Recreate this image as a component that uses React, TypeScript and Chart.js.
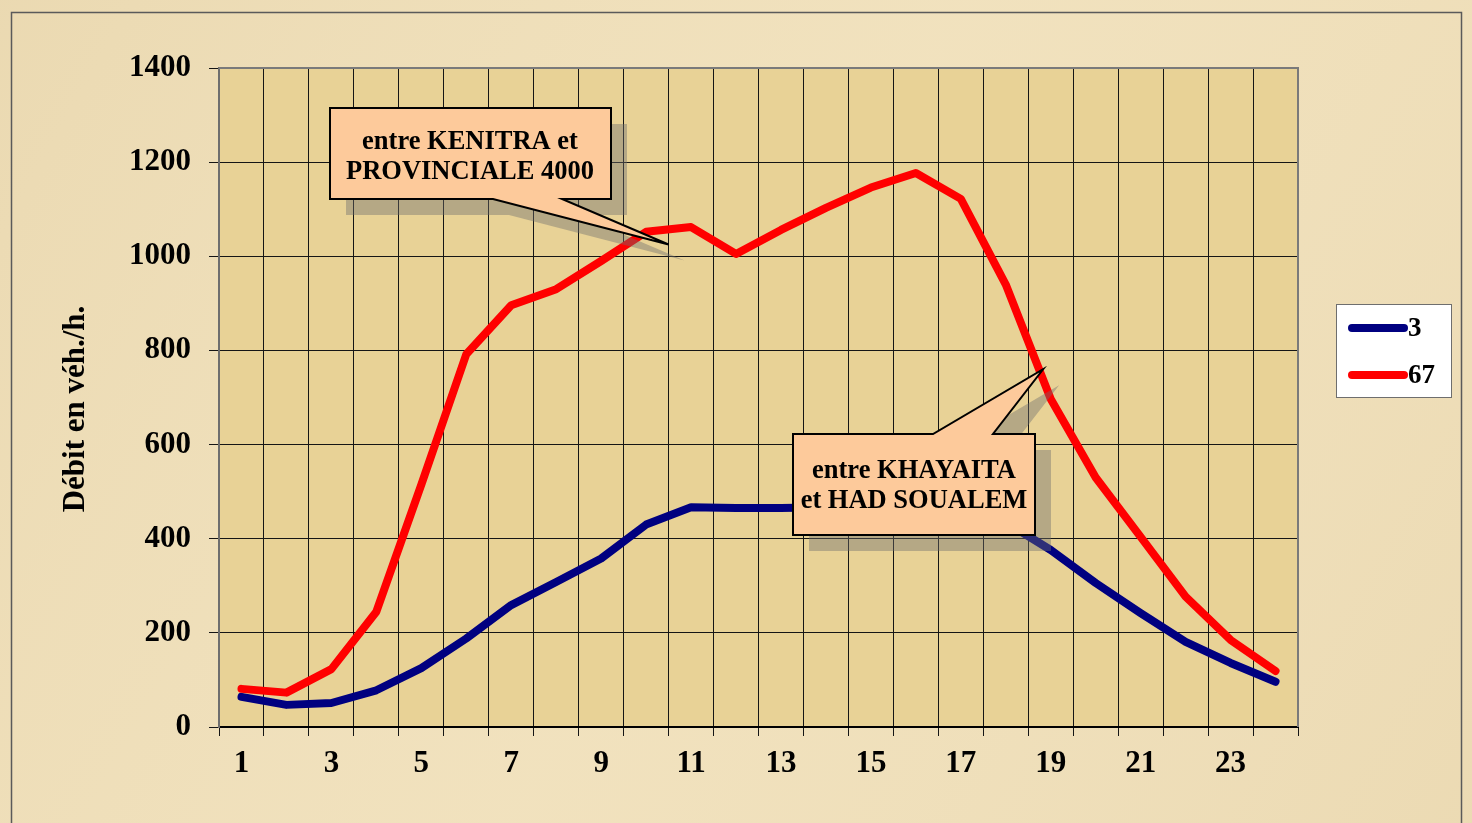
import React, { useEffect, useRef } from 'react';
import { Chart, registerables } from 'chart.js';

Chart.register(...registerables);

// ---- data ----
const hours = ['1', '2', '3', '4', '5', '6', '7', '8', '9', '10', '11', '12', '13', '14', '15', '16', '17', '18', '19', '20', '21', '22', '23', '24'];
const seriesNames = ['3', '67'];
const series3 = [64, 47, 51, 78, 125, 188, 259, 308, 358, 430, 467, 465, 465, 467, 467, 465, 455, 435, 376, 306, 242, 181, 136, 96];
const series67 = [81, 73, 123, 245, 515, 792, 896, 930, 990, 1052, 1062, 1005, 1056, 1103, 1146, 1177, 1122, 940, 697, 530, 404, 277, 185, 119];
const yMin = 0;
const yMax = 1400;
const yStep = 200;
const yTitle = 'Débit en véh./h.';
const callout1Lines = ['entre KENITRA et', 'PROVINCIALE 4000'];
const callout2Lines = ['entre KHAYAITA', 'et HAD SOUALEM'];
// callout pointer tips in data space: [category index, value]
const callout1Tip = [9.5, 1025];
const callout2Tip = [17.83, 760];

const FONT = '"Liberation Serif", "Times New Roman", serif';
const COLORS = ['#000080', '#ff0000'];

function xPix(chart: any, idx: number) {
  const ca = chart.chartArea;
  return ca.left + ((idx + 0.5) / hours.length) * (ca.right - ca.left);
}

function drawCallout(
  ctx: CanvasRenderingContext2D,
  pts: number[][],
  lines: string[],
  cx: number,
  baselines: number[]
) {
  const off = 16;
  ctx.save();
  // shadow
  ctx.beginPath();
  pts.forEach((p, i) => (i === 0 ? ctx.moveTo(p[0] + off, p[1] + off) : ctx.lineTo(p[0] + off, p[1] + off)));
  ctx.closePath();
  ctx.fillStyle = 'rgba(110,110,110,0.42)';
  ctx.fill();
  // body
  ctx.beginPath();
  pts.forEach((p, i) => (i === 0 ? ctx.moveTo(p[0], p[1]) : ctx.lineTo(p[0], p[1])));
  ctx.closePath();
  ctx.fillStyle = '#fdca9b';
  ctx.fill();
  ctx.lineWidth = 2;
  ctx.lineJoin = 'miter';
  ctx.strokeStyle = '#000';
  ctx.stroke();
  // text
  ctx.fillStyle = '#000';
  ctx.font = 'bold 26.5px ' + FONT;
  ctx.textAlign = 'center';
  ctx.textBaseline = 'alphabetic';
  lines.forEach((t, i) => ctx.fillText(t, cx, baselines[i]));
  ctx.restore();
}

const decorPlugin = {
  id: 'decor',
  beforeDraw(chart: any) {
    const { ctx, chartArea: ca, width, height } = chart;
    ctx.save();
    ctx.fillStyle = '#f0e0bb';
    ctx.fillRect(0, 0, width, height);
    const g = ctx.createLinearGradient(0, 0, width, height);
    g.addColorStop(0, 'rgba(225,205,160,0.35)');
    g.addColorStop(0.5, 'rgba(245,232,200,0.2)');
    g.addColorStop(1, 'rgba(228,208,165,0.35)');
    ctx.fillStyle = g;
    ctx.fillRect(0, 0, width, height);
    ctx.fillStyle = '#e8d296';
    ctx.fillRect(ca.left, ca.top, ca.right - ca.left, ca.bottom - ca.top);
    ctx.strokeStyle = '#5a5a5a';
    ctx.lineWidth = 1.5;
    ctx.strokeRect(11.5, 12.5, 1450, 840);
    ctx.restore();
  },
  beforeDatasetsDraw(chart: any) {
    const { ctx, chartArea: ca } = chart;
    ctx.save();
    ctx.strokeStyle = '#7a7a7a';
    ctx.lineWidth = 2;
    ctx.beginPath();
    ctx.moveTo(ca.left, ca.top);
    ctx.lineTo(ca.right, ca.top);
    ctx.lineTo(ca.right, ca.bottom);
    ctx.stroke();
    ctx.restore();
  },
  afterDatasetsDraw(chart: any) {
    const { ctx } = chart;
    const y = chart.scales.y;
    // callout 1
    const t1 = [xPix(chart, callout1Tip[0]), y.getPixelForValue(callout1Tip[1])];
    drawCallout(
      ctx,
      [[330, 108], [611, 108], [611, 199], [562, 199], t1, [493, 199], [330, 199]],
      callout1Lines,
      470,
      [149, 179]
    );
    // callout 2
    const t2 = [xPix(chart, callout2Tip[0]), y.getPixelForValue(callout2Tip[1])];
    drawCallout(
      ctx,
      [[793, 434], [933, 434], t2, [993, 434], [1035, 434], [1035, 535], [793, 535]],
      callout2Lines,
      914,
      [478, 508]
    );

    // y-axis title
    ctx.save();
    ctx.translate(84, 409);
    ctx.rotate(-Math.PI / 2);
    ctx.font = 'bold 31px ' + FONT;
    ctx.fillStyle = '#000';
    ctx.textAlign = 'center';
    ctx.textBaseline = 'alphabetic';
    ctx.fillText(yTitle, 0, 0);
    ctx.restore();

    // legend
    ctx.save();
    ctx.fillStyle = '#ffffff';
    ctx.fillRect(1336, 304, 115, 93);
    ctx.strokeStyle = '#6e6e6e';
    ctx.lineWidth = 1;
    ctx.strokeRect(1336.5, 304.5, 115, 93);
    const rows = [328, 375];
    seriesNames.forEach((name, i) => {
      ctx.strokeStyle = COLORS[i];
      ctx.lineWidth = 8;
      ctx.lineCap = 'round';
      ctx.beginPath();
      ctx.moveTo(1352, rows[i]);
      ctx.lineTo(1404, rows[i]);
      ctx.stroke();
      ctx.fillStyle = '#000';
      ctx.font = 'bold 27px ' + FONT;
      ctx.textAlign = 'left';
      ctx.textBaseline = 'alphabetic';
      ctx.fillText(name, 1408, rows[i] + 8);
    });
    ctx.restore();
  },
};

export default function App() {
  const ref = useRef<HTMLCanvasElement>(null);
  useEffect(() => {
    const tickFont = { family: FONT, size: 31, weight: 'bold' as const };
    const chart = new Chart(ref.current as HTMLCanvasElement, {
      type: 'line',
      data: {
        labels: hours,
        datasets: [
          {
            label: seriesNames[0],
            data: series3,
            borderColor: COLORS[0],
            backgroundColor: COLORS[0],
            borderWidth: 8,
            pointRadius: 0,
            tension: 0,
            borderCapStyle: 'round',
            borderJoinStyle: 'round',
            fill: false,
            order: 1,
          },
          {
            label: seriesNames[1],
            data: series67,
            borderColor: COLORS[1],
            backgroundColor: COLORS[1],
            borderWidth: 8,
            pointRadius: 0,
            tension: 0,
            borderCapStyle: 'round',
            borderJoinStyle: 'round',
            fill: false,
            order: 0,
          },
        ],
      },
      options: {
        responsive: false,
        animation: false,
        events: [],
        layout: { padding: { left: 0, right: 174, top: 68, bottom: 0 } },
        plugins: { legend: { display: false }, tooltip: { enabled: false }, title: { display: false } },
        scales: {
          x: {
            type: 'category',
            offset: true,
            grid: { offset: true, color: '#151515', lineWidth: 1, tickLength: 9, drawTicks: true },
            border: { display: true, color: '#000', width: 2 },
            ticks: {
              autoSkip: false,
              maxRotation: 0,
              minRotation: 0,
              color: '#000',
              font: tickFont,
              padding: 9,
              callback: (_v: any, i: number) => (i % 2 === 0 ? hours[i] : ''),
            },
            afterFit: (s: any) => {
              s.height = 96;
            },
          },
          y: {
            min: yMin,
            max: yMax,
            grid: { color: '#151515', lineWidth: 1, tickLength: 10, drawTicks: true },
            border: { display: true, color: '#6e6e6e', width: 2 },
            ticks: {
              stepSize: yStep,
              color: '#000',
              font: tickFont,
              padding: 18,
              callback: (v: any) => String(v),
            },
            afterFit: (s: any) => {
              s.width = 219;
            },
          },
        },
      },
      plugins: [decorPlugin],
    });
    return () => chart.destroy();
  }, []);
  return (
    <div style={{ position: 'fixed', left: 0, top: 0, width: 1472, height: 823, overflow: 'hidden' }}>
      <canvas ref={ref} width={1472} height={823} style={{ display: 'block', width: 1472, height: 823 }} />
    </div>
  );
}
